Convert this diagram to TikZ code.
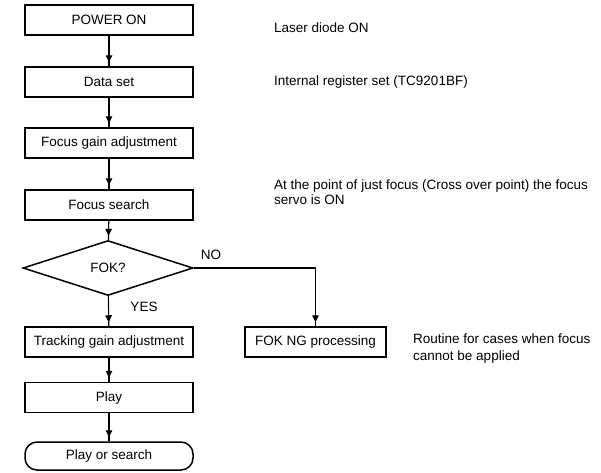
\documentclass[tikz,border=0pt]{standalone}
\usepackage{fontspec}
\setmainfont{Liberation Sans}
\usetikzlibrary{shapes.geometric,arrows.meta,decorations.markings}
\begin{document}
\begin{tikzpicture}[x=1pt,y=1pt,
  font=\fontsize{13.5}{16}\selectfont,
  box/.style={draw,line width=1.5pt,minimum width=168pt,minimum height=30pt,inner sep=0pt},
  term/.style={box,rounded corners=12pt,minimum height=28pt},
  dec/.style={draw,line width=1.5pt,diamond,aspect=3.09,minimum width=170pt,minimum height=55pt,inner sep=0pt},
  note/.style={anchor=west,align=left,inner sep=0pt},
  conn/.style={line width=1.1pt,postaction={decorate},
    decoration={markings,mark=at position -4pt with {\arrow{Triangle[length=7pt,width=6.5pt]}}}},
  lbl/.style={inner sep=0pt}]
\useasboundingbox (0,0) rectangle (601,-472);
\node[box] (p) at (109,-20) {POWER ON};
\node[box] (d) at (109,-82) {Data set};
\node[box] (g) at (109,-143) {Focus gain adjustment};
\node[box] (s) at (109,-205) {Focus search};
\node[dec] (f) at (108,-268) {FOK?};
\node[box] (t) at (109,-342) {Tracking gain adjustment};
\node[box] (pl) at (109,-397.5) {Play};
\node[term] (ps) at (109,-456) {Play or search};
\node[box,minimum width=141pt] (ng) at (315.5,-342) {FOK NG processing};
\coordinate (c) at (ng.north |- f.east);
\draw[conn] (p) -- (d);
\draw[conn] (d) -- (g);
\draw[conn] (g) -- (s);
\draw[conn] (s) -- (f);
\draw[conn] (f) -- (t);
\draw[conn] (t) -- (pl);
\draw[conn] (pl) -- (ps);
\draw[conn] (f.east) -- (c) -- (ng.north);
\node[lbl] (no) at (211,-255) {NO};
\node[lbl] (yes) at (144,-307) {YES};
\node[note] (n1) at (274,-28) {Laser diode ON};
\node[note] (n2) at (274,-82) {Internal register set (TC9201BF)};
\node[note,font=\fontsize{13.5}{15.5}\selectfont] (n3) at (274,-192) {At the point of just focus (Cross over point) the focus\\servo is ON};
\node[note,font=\fontsize{13.5}{17}\selectfont] (n4) at (413,-348) {Routine for cases when focus\\cannot be applied};
\end{tikzpicture}
\end{document}
